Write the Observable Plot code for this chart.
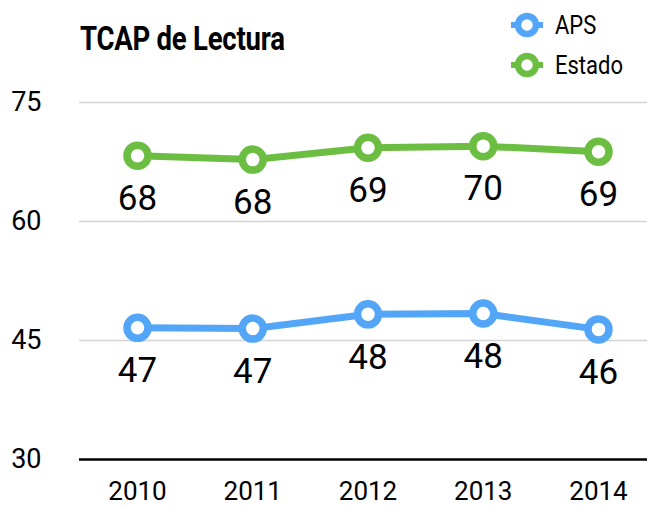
<!DOCTYPE html>
<html>
<head>
<meta charset="utf-8">
<script src="https://cdn.jsdelivr.net/npm/d3@7"></script>
<script src="https://cdn.jsdelivr.net/npm/@observablehq/plot@0.6"></script>
<style>
  html, body { margin: 0; padding: 0; background: #fff; }
  #wrap { position: relative; width: 647px; height: 506px; font-family: Roboto, "DejaVu Sans", sans-serif; }
  #title { position: absolute; left: 80px; top: 21px; font-size: 34px; font-weight: bold; color: #000; line-height: 1; white-space: nowrap; transform: scaleX(0.81); transform-origin: left top; letter-spacing: -0.3px; }
  #legend { position: absolute; left: 510px; top: 5px; font-size: 25px; color: #000; }
  .lg { display: flex; align-items: center; height: 40px; }
  .lg svg { margin-right: 11px; }
  .lg span { display: inline-block; transform: scaleX(0.88); transform-origin: left center; }
</style>
</head>
<body>
<div id="wrap">
  <div id="chart"></div>
  <div id="title">TCAP de Lectura</div>
  <div id="legend"></div>
</div>
<script>
const years = [2010, 2011, 2012, 2013, 2014];
const apsValues = [46.6, 46.5, 48.3, 48.4, 46.4];
const estadoValues = [68.3, 67.8, 69.3, 69.5, 68.8];
const apsLabels = ["47", "47", "48", "48", "46"];
const estadoLabels = ["68", "68", "69", "70", "69"];
const seriesNames = ["APS", "Estado"];
const seriesColors = ["#53a6f7", "#6cbe43"];
const yTicks = [30, 45, 60, 75];

const rows = [];
years.forEach((yr, i) => {
  rows.push({year: yr, value: apsValues[i], label: apsLabels[i], series: "APS"});
  rows.push({year: yr, value: estadoValues[i], label: estadoLabels[i], series: "Estado"});
});

const font = "Roboto, DejaVu Sans, sans-serif";

const chart = Plot.plot({
  width: 647,
  height: 506,
  marginTop: 102,
  marginBottom: 47,
  marginLeft: 79,
  marginRight: 0,
  style: {fontFamily: font, background: "#fff", overflow: "visible"},
  x: {type: "linear", domain: [2010, 2014], range: [137, 598]},
  y: {domain: [30, 75]},
  color: {domain: seriesNames, range: seriesColors},
  marks: [
    Plot.ruleY(yTicks.filter(d => d !== 30), {stroke: "#d4d4d4", strokeWidth: 1.5}),
    Plot.ruleY([30], {stroke: "#000", strokeWidth: 2.5}),
    Plot.axisY({ticks: yTicks, tickSize: 0, tickPadding: 38, fontSize: 27, textAnchor: "end", label: null, tickFormat: d => String(d), fill: "#000"}),
    Plot.axisX({ticks: years, tickSize: 0, tickPadding: 22, fontSize: 26, label: null, tickFormat: d => String(d), fill: "#000"}),
    Plot.line(rows, {x: "year", y: "value", z: "series", stroke: "series", strokeWidth: 7}),
    Plot.dot(rows, {x: "year", y: "value", stroke: "series", fill: "#fff", r: 10.5, strokeWidth: 7.5}),
    Plot.text(rows, {x: "year", y: "value", text: "label", dy: 43, fontSize: 35, fill: "#000", lineAnchor: "middle"})
  ]
});
document.getElementById("chart").appendChild(chart);

const legend = document.getElementById("legend");
seriesNames.forEach((name, i) => {
  const row = document.createElement("div");
  row.className = "lg";
  row.innerHTML = `<svg width="34" height="30" viewBox="0 0 34 30">
      <line x1="1" y1="15" x2="33" y2="15" stroke="${seriesColors[i]}" stroke-width="6"/>
      <circle cx="17" cy="15" r="9" fill="#fff" stroke="${seriesColors[i]}" stroke-width="6.5"/>
    </svg><span>${name}</span>`;
  legend.appendChild(row);
});
</script>
</body>
</html>
